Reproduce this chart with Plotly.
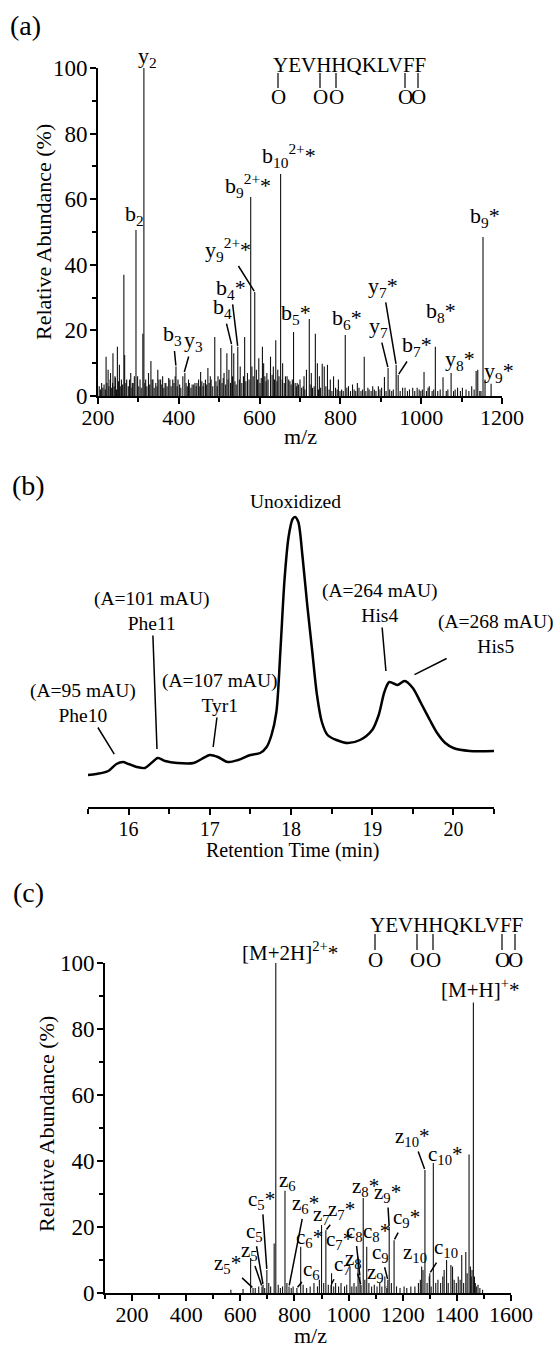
import plotly.graph_objects as go

# ---------------- DATA ----------------
# Panel (a): MS/MS spectrum, m/z and relative abundance (%)
a_peak_mz = [220, 225, 231, 237, 242, 248, 253, 258, 264, 266, 271, 281, 285, 294, 298, 311, 313.6, 318,
             325, 331, 336, 348, 355, 360, 368, 375, 385, 393, 398, 410, 415, 426, 437, 445, 454, 462, 472,
             480, 489, 497, 504, 512, 519, 524, 531, 536, 546, 552, 563, 570, 578, 581, 588, 592, 598, 607,
             610, 618, 627, 634, 640, 645, 652, 657, 664, 672, 684, 693, 700, 710, 716, 723, 728, 738, 743,
             748, 755, 760, 768, 775, 783, 795, 812, 820, 830, 842, 859, 880, 894, 909, 918, 938, 943, 960,
             990, 1007, 1020, 1035, 1054, 1074, 1090, 1125, 1136, 1140, 1153, 1158, 1173]
a_peak_int = [12, 8, 7, 13, 6, 15, 9.5, 5, 37, 12.5, 5, 7, 4, 50.6, 6, 19, 100, 5,
              7, 10.7, 5, 8, 5, 6, 4, 5.5, 5, 9, 5, 6, 7, 4, 3.5, 4, 7.3, 4, 8.5,
              5, 18, 6, 14.6, 7, 13, 8, 15.5, 13, 15, 9, 18, 7, 60.7, 9, 31.7, 8, 11.5, 15,
              10, 7, 12, 9, 17, 8, 67.7, 10, 6, 5, 19.5, 4, 5, 6, 8, 23.5, 7, 19, 10,
              6, 9.8, 9, 9.5, 5, 6, 5, 18.6, 3, 3.5, 4, 12, 3, 3, 5.8, 8.5, 9.5, 6.4, 2.5,
              2.5, 7.3, 3, 15, 5.7, 7, 2.5, 3, 7.6, 8, 48.5, 5, 3.7]
a_noise_mz = [203, 206, 209, 212, 215, 218, 222, 227, 230, 233, 236, 240, 243, 246, 251, 255, 261, 269,
              275, 278, 284, 287, 290, 301, 304, 307, 316, 321, 328, 334, 339, 343, 346, 351, 358, 363,
              366, 371, 378, 381, 388, 391, 396, 402, 405, 418, 421, 424, 430, 433, 440, 443, 449, 452,
              457, 460, 466, 469, 475, 478, 484, 492, 495, 501, 507, 510, 516, 522, 528, 533, 539, 542,
              550, 556, 560, 566, 574, 584, 595, 601, 604, 613, 616, 621, 631, 637, 643, 648, 656, 661,
              668, 675, 678, 681, 688, 691, 696, 704, 708, 712, 727, 731, 735, 746, 751, 764, 772, 779,
              788, 792, 799, 803, 807, 816, 825, 834, 838, 846, 851, 855, 863, 868, 871, 876, 884, 888,
              898, 902, 913, 922, 927, 931, 948, 954, 966, 971, 979, 984, 995, 999, 1003, 1013, 1017,
              1027, 1031, 1041, 1047, 1062, 1066, 1080, 1084, 1097, 1102, 1111, 1118, 1131, 1145, 1148,
              1162, 1167, 1178]
a_noise_int = [3, 2, 4, 2.5, 3.5, 2, 4, 3, 5, 2.5, 4, 3, 5.5, 2, 4.5, 3, 3.5, 4,
               3, 5, 2.5, 4, 6, 3, 5, 2.5, 4, 3, 3.5, 5, 2.5, 4, 3, 5, 3.5, 2.5,
               4, 3, 5, 3, 4, 6, 3, 3.5, 2.5, 4, 3, 5, 2.5, 3.5, 4, 3, 5, 3,
               4.5, 3, 5, 3.5, 4, 6, 3, 4.5, 3, 5, 4, 5.5, 3.5, 5, 4, 6, 4.5, 3.5,
               5, 4, 6, 4.5, 5, 6, 5, 4, 5.5, 6, 4.5, 5, 6.5, 5, 4.5, 6, 5, 4,
               6, 4.5, 3.5, 5, 4, 3, 3.5, 2.5, 3, 2, 3.5, 2.5, 3, 2, 2.5, 3,
               2, 1.5, 2.5, 2, 1.5, 2, 1.5, 2.5, 1.5, 2, 1.5, 2.5, 1.5, 2, 1.5, 2.5, 2, 1.5,
               2, 1.5, 2, 2.5, 1.5, 2, 1.5, 2, 1.5, 2.5, 1.5, 2, 2.5, 1.5, 2, 1.5,
               2, 1.5, 2.5, 1.5, 2, 1.5, 2, 1.5, 2, 1.5, 2, 1.5, 2.5, 2, 1.5,
               2, 1.5, 1.5]

# Panel (b): HPLC chromatogram, retention time (min) and absorbance (mAU, arbitrary offset)
b_time = [15.5, 15.6, 15.75, 15.85, 15.93, 16.0, 16.1, 16.2, 16.28, 16.36, 16.45, 16.6, 16.8, 16.9,
          17.0, 17.1, 17.22, 17.35, 17.5, 17.62, 17.7, 17.76, 17.82, 17.87, 17.92, 17.97, 18.02, 18.05,
          18.09, 18.14, 18.2, 18.26, 18.32, 18.38, 18.45, 18.56, 18.7, 18.85, 19.0, 19.08, 19.15, 19.21,
          19.31, 19.4, 19.5, 19.6, 19.71, 19.8, 19.9, 20.0, 20.2, 20.5]
b_signal = [32, 33, 36, 43, 45, 43, 40, 39, 44, 49, 46, 44, 44, 48,
            52, 50, 45, 47, 52, 54, 60, 72, 95, 157, 227, 270, 288, 290,
            285, 252, 202, 157, 112, 85, 72, 67, 64, 67, 77, 92, 115, 125,
            122, 126, 119, 104, 87, 74, 64, 59, 56, 56]

# Panel (c): ETD spectrum
c_peak_mz = [638, 647, 680, 684, 698, 725, 731, 765, 780, 809, 823, 900, 916, 935, 937, 1005, 1035,
             1042, 1046, 1054, 1067, 1134, 1141, 1145, 1150, 1168, 1270, 1275, 1282, 1298, 1300, 1313,
             1353, 1362, 1378, 1384, 1418, 1433, 1445, 1461]
c_peak_int = [10.6, 1.5, 2, 2.5, 7, 15, 100, 31, 2, 1.5, 14, 20.6, 19, 2.5, 6, 8, 11,
              5, 2.4, 28.8, 14, 5, 1.5, 4, 20, 16, 8, 7, 37.3, 5, 6, 39.4,
              7, 10, 8.5, 8, 11.5, 12.4, 42, 88]
c_noise_mz = [565, 610, 655, 668, 690, 705, 712, 740, 748, 756, 772, 788, 795, 832, 845, 858, 872, 885,
              892, 908, 925, 945, 952, 963, 972, 985, 993, 1012, 1020, 1028, 1060, 1075, 1085, 1095,
              1105, 1115, 1123, 1158, 1177, 1190, 1205, 1215, 1230, 1245, 1258, 1265, 1290, 1305,
              1322, 1330, 1340, 1348, 1368, 1390, 1398, 1405, 1412, 1425, 1438, 1450, 1453, 1456,
              1465, 1468, 1472, 1478, 1485, 1495]
c_noise_int = [1, 1.2, 1.5, 2, 1.5, 3, 2, 2.5, 1.5, 2, 3, 1.5, 2, 2.5, 1.5, 2, 3, 2,
               4, 3, 2.5, 2, 3, 2, 3, 2, 2.5, 2, 3, 2, 4, 3, 2, 2.5,
               2, 3, 2, 3, 2, 1.5, 2, 1.5, 2, 2, 3, 4, 3, 2,
               3, 4, 3, 5, 3, 4, 3, 5, 4, 3, 6, 8, 5, 7,
               5, 3, 2, 2.5, 1.5, 1]

sequence = "YEVHHQKLVFF"
x_ticks_a = [200, 400, 600, 800, 1000, 1200]
x_ticks_b = [16, 17, 18, 19, 20]
x_ticks_c = [200, 400, 600, 800, 1000, 1200, 1400, 1600]
y_ticks = [0, 20, 40, 60, 80, 100]

# ---------------- LAYOUT HELPERS ----------------
W, H = 553, 1347
FONT = "Liberation Serif, Times New Roman, serif"


def px(p):
    return p / W


def py(p):
    return 1 - p / H


def sticks(mz, inten):
    xs, ys = [], []
    for m, v in zip(mz, inten):
        xs += [m, m, None]
        ys += [0, v, None]
    return xs, ys


fig = go.Figure()

stick_color = "#111111"
for (mz, it, xa, ya) in [(a_noise_mz, a_noise_int, "x", "y"), (a_peak_mz, a_peak_int, "x", "y"),
                         (c_noise_mz, c_noise_int, "x3", "y3"), (c_peak_mz, c_peak_int, "x3", "y3")]:
    xs, ys = sticks(mz, it)
    fig.add_trace(go.Scatter(x=xs, y=ys, mode="lines", line=dict(color=stick_color, width=1.1),
                             xaxis=xa, yaxis=ya, hoverinfo="skip", showlegend=False))

fig.add_trace(go.Scatter(x=b_time, y=b_signal, mode="lines",
                         line=dict(color="black", width=2.5, shape="spline", smoothing=0.8),
                         xaxis="x2", yaxis="y2", hoverinfo="skip", showlegend=False))

xtickfont = dict(family=FONT, size=22, color="black")
ytickfont = dict(family=FONT, size=23, color="black")
common_x = dict(showline=True, linecolor="black", linewidth=2, ticks="outside", ticklen=6, tickwidth=2,
                tickcolor="black", showgrid=False, zeroline=False)
common_y = dict(showline=True, linecolor="black", linewidth=2, ticks="outside", ticklen=6, tickwidth=2,
                tickcolor="black", showgrid=False, zeroline=False, tickfont=ytickfont,
                tickvals=y_ticks, range=[0, 100], ticklabelstandoff=-2,
                minor=dict(dtick=10, ticks="outside", ticklen=4, tickwidth=1.5, tickcolor="black"))

fig.update_layout(
    width=W, height=H, margin=dict(l=0, r=0, t=0, b=0, autoexpand=False), autosize=False,
    paper_bgcolor="white", plot_bgcolor="rgba(0,0,0,0)",
    xaxis=dict(domain=[px(98), px(502)], range=[200, 1200], anchor="y", tickvals=x_ticks_a,
               tickfont=xtickfont, ticklabelstandoff=-5,
               minor=dict(dtick=100, tick0=200, ticks="outside", ticklen=4, tickwidth=1.5, tickcolor="black"),
               **common_x),
    yaxis=dict(domain=[py(396), py(68)], anchor="x", **common_y),
    xaxis2=dict(domain=[px(88), px(494)], range=[15.5, 20.5], anchor="y2", tickvals=x_ticks_b,
                tickfont=dict(family=FONT, size=20, color="black"), ticklabelstandoff=-3,
                minor=dict(dtick=0.5, tick0=15.5, ticks="outside", ticklen=5, tickwidth=2, tickcolor="black"),
                **common_x),
    yaxis2=dict(domain=[py(807), py(500)], range=[0, 307], anchor="x2", visible=False),
    xaxis3=dict(domain=[px(105), px(511)], range=[100, 1600], anchor="y3", tickvals=x_ticks_c,
                tickfont=xtickfont, ticklabelstandoff=-5,
                minor=dict(dtick=100, tick0=100, ticks="outside", ticklen=4, tickwidth=1.5, tickcolor="black"),
                **common_x),
    yaxis3=dict(domain=[py(1293), py(963)], anchor="x3", **common_y),
)

ann = []
shapes = []


def ptext(x, y, text, size=21, angle=0):
    ann.append(dict(xref="paper", yref="paper", x=px(x), y=py(y), text=text, showarrow=False,
                    xanchor="center", yanchor="middle", textangle=angle,
                    font=dict(family=FONT, size=size, color="black")))


# panel letters and axis titles
ptext(25, 26, "(a)", 28)
ptext(28, 485, "(b)", 28)
ptext(28, 893, "(c)", 28)
ptext(44, 232, "Relative Abundance (%)", 22, -90)
ptext(46, 1124, "Relative Abundance (%)", 22, -90)
ptext(300, 437, "m/z", 22)
ptext(310, 1335, "m/z", 22)
ptext(292, 850, "Retention Time (min)", 20)


def seq_block(x0, y_text, y_o, bar_top, bar_bot, offsets):
    ann.append(dict(xref="paper", yref="paper", x=px(x0), y=py(y_text), text=sequence, showarrow=False,
                    xanchor="left", yanchor="middle", font=dict(family=FONT, size=21, color="black")))
    for off in offsets:
        ann.append(dict(xref="paper", yref="paper", x=px(x0 + off), y=py(y_o), text="O", showarrow=False,
                        xanchor="center", yanchor="middle", font=dict(family=FONT, size=21, color="black")))
        shapes.append(dict(type="line", xref="paper", yref="paper", x0=px(x0 + off), x1=px(x0 + off),
                           y0=py(bar_top), y1=py(bar_bot), line=dict(color="black", width=1.2)))


seq_offsets = [7, 49, 65, 134, 147]
seq_block(271, 65, 97, 73, 88, seq_offsets)
seq_block(368, 925, 960, 934, 950, seq_offsets)


def plabel(xa, ya, x, y, text, dx, dy, line=False, size=22):
    d = dict(xref=xa, yref=ya, x=x, y=y, text=text, font=dict(family=FONT, size=size, color="black"))
    if line:
        d.update(showarrow=True, arrowhead=0, arrowwidth=1.5, arrowcolor="black", ax=dx, ay=dy,
                 axref="pixel", ayref="pixel", standoff=1)
    else:
        d.update(showarrow=False, xshift=dx, yshift=-dy, xanchor="center", yanchor="middle")
    ann.append(d)


# panel (a) fragment labels
a_labels = [
    ("y<sub>2</sub>", 313.6, 100, 4, -11, False),
    ("b<sub>2</sub>", 294, 50.6, -1, -15, False),
    ("b<sub>9</sub><sup>2+</sup>*", 578, 60.7, -3, -11, False),
    ("b<sub>10</sub><sup>2+</sup>*", 652, 67.7, 8, -18, False),
    ("y<sub>9</sub><sup>2+</sup>*", 588, 31.7, -27, -43, True),
    ("b<sub>4</sub>*", 546, 15, -7, -58, True),
    ("b<sub>4</sub>", 531, 15.5, -9, -37, True),
    ("b<sub>3</sub>", 393, 9, -3, -31, True),
    ("y<sub>3</sub>", 413, 7, 9, -32, True),
    ("b<sub>5</sub>*", 684, 19.5, 2, -18, False),
    ("b<sub>6</sub>*", 812, 18.6, 2, -16, False),
    ("y<sub>7</sub>*", 938, 9.5, -13, -78, True),
    ("y<sub>7</sub>", 918, 8.5, -10, -41, True),
    ("b<sub>7</sub>*", 943, 6.4, 19, -29, True),
    ("b<sub>8</sub>*", 1035, 15, 6, -35, False),
    ("y<sub>8</sub>*", 1074, 7, 9, -13, False),
    ("y<sub>9</sub>*", 1173, 3.7, 8, -12, False),
    ("b<sub>9</sub>*", 1153, 48.5, 2, -20, False),
]
for t, x, y, dx, dy, ln in a_labels:
    plabel("x", "y", x, y, t, dx, dy, ln)

# panel (b) labels
b_labels = [
    ("(A=95 mAU)<br>Phe10", 15.83, 52, -32, -52, True),
    ("(A=101 mAU)<br>Phe11", 16.35, 57, -5, -139, True),
    ("(A=107 mAU)<br>Tyr1", 17.04, 59, 7, -55, True),
    ("(A=264 mAU)<br>His4", 19.17, 135, -6, -69, True),
    ("(A=268 mAU)<br>His5", 19.51, 132, 82, -41, True),
]
for t, x, y, dx, dy, ln in b_labels:
    plabel("x2", "y2", x, y, t, dx, dy, ln, size=19.5)
plabel("x2", "y2", 18.05, 290, "Unoxidized", 0, -15, False, size=19.5)

# panel (c) labels
c_labels = [
    ("[M+2H]<sup>2+</sup>*", 731, 100, 14, -11, False),
    ("[M+H]<sup>+</sup>*", 1461, 88, 7, -14, False),
    ("z<sub>5</sub>*", 647, 1.5, -26, -24, True),
    ("z<sub>5</sub>", 680, 2, -12, -35, True),
    ("c<sub>5</sub>", 684, 2.5, -9, -53, True),
    ("c<sub>5</sub>*", 698, 7, -5, -70, True),
    ("z<sub>6</sub>", 765, 31, 3, -10, False),
    ("z<sub>6</sub>*", 780, 2, 16, -82, True),
    ("c<sub>6</sub>*", 823, 14, 9, -9, False),
    ("c<sub>6</sub>", 809, 1.5, 15, -18, True),
    ("z<sub>7</sub>", 900, 20.6, 0, -10, False),
    ("z<sub>7</sub>*", 916, 19, 16, -20, True),
    ("c<sub>7</sub>*", 937, 6, 8, -33, False),
    ("c<sub>7</sub>", 935, 2.5, 11, -20, True),
    ("z<sub>8</sub>*", 1054, 28.8, 2, -11, False),
    ("z<sub>8</sub>", 1046, 2.4, -8, -26, True),
    ("c<sub>8</sub>", 1042, 5, -5, -45, True),
    ("c<sub>8</sub>*", 1067, 14, 10, -15, True),
    ("z<sub>9</sub>*", 1150, 20, -2, -34, True),
    ("z<sub>9</sub>", 1141, 1.5, -11, -15, True),
    ("c<sub>9</sub>*", 1168, 16, 12, -22, True),
    ("c<sub>9</sub>", 1145, 4, -7, -27, True),
    ("z<sub>10</sub>*", 1282, 37.3, -12, -33, True),
    ("z<sub>10</sub>", 1270, 8, -7, -14, False),
    ("c<sub>10</sub>*", 1313, 39.4, 12, -8, False),
    ("c<sub>10</sub>", 1300, 6, 16, -25, True),
]
for t, x, y, dx, dy, ln in c_labels:
    plabel("x3", "y3", x, y, t, dx, dy, ln, size=21)

fig.update_layout(annotations=ann, shapes=shapes)
fig.write_html("out.html")
